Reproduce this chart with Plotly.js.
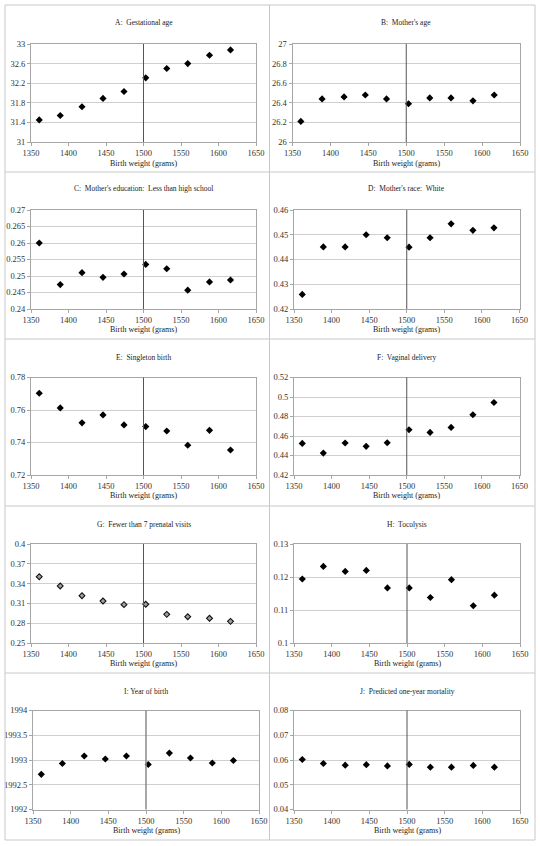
<!DOCTYPE html>
<html>
<head>
<meta charset="utf-8">
<script src="https://cdn.plot.ly/plotly-3.0.1.min.js"></script>
<style>html,body{margin:0;padding:0;background:#fff;}#chart{width:540px;height:846px;}</style>
</head>
<body>
<div id="chart"></div>
<script>
// ---- Data ----
const birthWeight = [1361, 1389, 1418, 1446, 1474, 1503, 1531, 1559, 1588, 1616];
const cutoff = 1500;

const gestationalAge   = [31.45, 31.54, 31.72, 31.89, 32.03, 32.31, 32.50, 32.60, 32.77, 32.88];
const mothersAge       = [26.21, 26.44, 26.46, 26.48, 26.44, 26.39, 26.45, 26.45, 26.42, 26.48];
const lessThanHS       = [0.2600, 0.2474, 0.2510, 0.2496, 0.2506, 0.2535, 0.2522, 0.2457, 0.2482, 0.2488];
const raceWhite        = [0.4259, 0.4451, 0.4451, 0.4500, 0.4488, 0.4450, 0.4488, 0.4544, 0.4518, 0.4528];
const singletonBirth   = [0.7703, 0.7613, 0.7521, 0.7570, 0.7508, 0.7498, 0.7471, 0.7383, 0.7475, 0.7354];
const vaginalDelivery  = [0.4524, 0.4425, 0.4528, 0.4494, 0.4531, 0.4664, 0.4637, 0.4688, 0.4818, 0.4944];
const fewPrenatal      = [0.3505, 0.3364, 0.3217, 0.3136, 0.3081, 0.3086, 0.2934, 0.2899, 0.2874, 0.2828];
const tocolysis        = [0.1194, 0.1232, 0.1217, 0.1220, 0.1167, 0.1167, 0.1138, 0.1192, 0.1113, 0.1145];
const yearOfBirth      = [1992.71, 1992.93, 1993.08, 1993.02, 1993.08, 1992.91, 1993.14, 1993.04, 1992.94, 1992.99];
const predMortality    = [0.0602, 0.0586, 0.0579, 0.0581, 0.0576, 0.0582, 0.0571, 0.0571, 0.0578, 0.0571];

const panelTitles = [
  "A:&nbsp; Gestational age",
  "B:&nbsp; Mother's age",
  "C:&nbsp; Mother's education:&nbsp; Less than high school",
  "D:&nbsp; Mother's race:&nbsp; White",
  "E:&nbsp; Singleton birth",
  "F:&nbsp; Vaginal delivery",
  "G:&nbsp; Fewer than 7 prenatal visits",
  "H:&nbsp; Tocolysis",
  "I: Year of birth",
  "J:&nbsp; Predicted one-year mortality"
];
const xTitle = "Birth weight (grams)";
const xTickVals = [1350, 1400, 1450, 1500, 1550, 1600, 1650];
const series = [gestationalAge, mothersAge, lessThanHS, raceWhite, singletonBirth,
                vaginalDelivery, fewPrenatal, tocolysis, yearOfBirth, predMortality];

// ---- Axis scales ----
const yRanges = [[31,33],[26,27],[0.24,0.27],[0.42,0.46],[0.72,0.78],[0.42,0.52],[0.25,0.4],[0.1,0.13],[1992,1994],[0.04,0.08]];
const yDticks = [0.4, 0.2, 0.005, 0.01, 0.02, 0.02, 0.03, 0.01, 0.5, 0.01];

// ---- Layout geometry (pixels) ----
const W = 540, H = 846;
const plotL = [31, 292.5, 31, 294, 31, 294, 31, 294, 33, 294];
const plotR = [256, 520, 256, 519.5, 256, 519.5, 256, 520, 259, 520];
const rowT = [44, 210, 377.5, 544, 710.5];
const rowB = [142, 309, 475, 643, 809.5];
const titleY = [22.5, 189, 357.5, 524.5, 691.5];
const xTitleY = [163, 329.5, 495, 663, 830];
const gridX = [5, 269.5, 535];
const gridY = [5, 172, 339, 506, 673, 840];

const FONT = "Liberation Serif, Times New Roman, serif";
const px = v => v / W, py = v => 1 - v / H;

const data = [];
const layout = {
  width: W, height: H,
  margin: {l:0, r:0, t:0, b:0},
  paper_bgcolor: '#fff', plot_bgcolor: '#fff',
  showlegend: false,
  font: {family: FONT, size: 8, color: '#222'},
  shapes: [], annotations: []
};

series.forEach((ys, i) => {
  const row = Math.floor(i / 2);
  const n = i === 0 ? '' : String(i + 1);
  const xa = 'xaxis' + n, ya = 'yaxis' + n;
  const hollow = (i === 6);
  data.push({
    type: 'scatter', mode: 'markers',
    x: birthWeight, y: ys,
    xaxis: 'x' + n, yaxis: 'y' + n,
    marker: {symbol: 'diamond', size: hollow ? 4.5 : 5.5,
             color: hollow ? '#a0a0a0' : '#000',
             line: {color: '#111', width: hollow ? 1.1 : 0}},
    hoverinfo: 'x+y'
  });
  layout[xa] = {
    domain: [px(plotL[i]), px(plotR[i])],
    anchor: 'y' + n,
    range: [1350, 1650], tickmode: 'array', tickvals: xTickVals,
    showgrid: false, zeroline: false,
    showline: true, mirror: true, linecolor: '#a6a6a6', linewidth: 1,
    ticks: 'outside', ticklen: 3, tickcolor: '#a6a6a6',
    tickfont: {family: FONT, size: 8.5, color: '#333'}
  };
  layout[ya] = {
    domain: [py(rowB[row]), py(rowT[row])],
    anchor: 'x' + n,
    range: yRanges[i], tickmode: 'linear', tick0: yRanges[i][0], dtick: yDticks[i],
    tickformat: '.6~g',
    showgrid: true, gridcolor: '#cfcfcf', gridwidth: 1, zeroline: false,
    showline: true, mirror: true, linecolor: '#a6a6a6', linewidth: 1,
    ticks: 'outside', ticklen: 3, tickcolor: '#a6a6a6',
    tickfont: {family: FONT, size: 8.5, color: '#333'}
  };
  // cutoff line
  layout.shapes.push({
    type: 'line', xref: 'x' + n, yref: 'y' + n + ' domain',
    x0: cutoff, x1: cutoff, y0: 0, y1: 1,
    line: {color: i === 8 ? '#8a8a8a' : '#555', width: i === 8 ? 1.5 : 1}
  });
  const cx = (plotL[i] + plotR[i]) / 2;
  layout.annotations.push({
    xref: 'paper', yref: 'paper', x: px(cx), y: py(titleY[row]),
    xanchor: 'center', yanchor: 'middle', showarrow: false,
    text: panelTitles[i], font: {family: FONT, size: 7.5, color: '#222'}
  });
  layout.annotations.push({
    xref: 'paper', yref: 'paper', x: px(cx), y: py(xTitleY[row]),
    xanchor: 'center', yanchor: 'middle', showarrow: false,
    text: xTitle, font: {family: FONT, size: 8, color: '#222'}
  });
});

// panel borders
gridX.forEach(x => layout.shapes.push({type:'line', xref:'paper', yref:'paper',
  x0: px(x), x1: px(x), y0: py(gridY[0]), y1: py(gridY[gridY.length-1]),
  line:{color:'#c8c8c8', width:1}}));
gridY.forEach(y => layout.shapes.push({type:'line', xref:'paper', yref:'paper',
  x0: px(gridX[0]), x1: px(gridX[gridX.length-1]), y0: py(y), y1: py(y),
  line:{color:'#c8c8c8', width:1}}));

Plotly.newPlot('chart', data, layout, {staticPlot: true, displayModeBar: false});
</script>
</body>
</html>
